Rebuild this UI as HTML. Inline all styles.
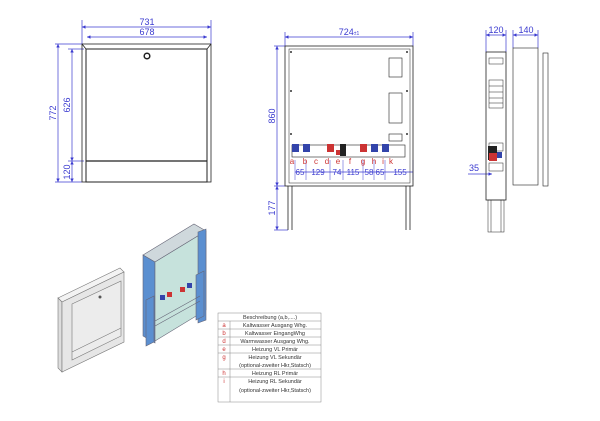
<!DOCTYPE html>
<html><head><meta charset="utf-8"><style>
html,body{margin:0;padding:0;background:#fff;}
svg{display:block;font-family:"Liberation Sans",sans-serif;}
</style></head><body>
<svg width="600" height="421" viewBox="0 0 600 421" xmlns="http://www.w3.org/2000/svg">
<defs>
<marker id="ar" viewBox="0 0 6 6" refX="6" refY="3" markerWidth="5" markerHeight="5" orient="auto-start-reverse"><path d="M0,0L6,3L0,6z" fill="#3b3bd0"/></marker>
</defs>
<g stroke="#3b3bd0" stroke-width="0.7" fill="none">
<!-- front view dims -->
<line x1="82" y1="20" x2="82" y2="44"/><line x1="211" y1="20" x2="211" y2="44"/>
<line x1="82" y1="27" x2="211" y2="27" marker-start="url(#ar)" marker-end="url(#ar)"/>
<line x1="87" y1="37" x2="207" y2="37" marker-start="url(#ar)" marker-end="url(#ar)"/>
<line x1="55" y1="44" x2="82" y2="44"/><line x1="55" y1="182" x2="82" y2="182"/>
<line x1="68" y1="49" x2="84" y2="49"/><line x1="68" y1="161" x2="84" y2="161"/>
<line x1="58" y1="44" x2="58" y2="182" marker-start="url(#ar)" marker-end="url(#ar)"/>
<line x1="72" y1="49" x2="72" y2="161" marker-start="url(#ar)" marker-end="url(#ar)"/>
<line x1="72" y1="161" x2="72" y2="182" marker-start="url(#ar)" marker-end="url(#ar)"/>
<!-- middle -->
<line x1="285" y1="32" x2="285" y2="46"/><line x1="413" y1="32" x2="413" y2="46"/>
<line x1="285" y1="37" x2="413" y2="37" marker-start="url(#ar)" marker-end="url(#ar)"/>
<line x1="274" y1="46" x2="285" y2="46"/><line x1="274" y1="186" x2="285" y2="186"/><line x1="274" y1="230" x2="288" y2="230"/>
<line x1="277" y1="46" x2="277" y2="186" marker-start="url(#ar)" marker-end="url(#ar)"/>
<line x1="277" y1="186" x2="277" y2="230" marker-start="url(#ar)" marker-end="url(#ar)"/>
<line x1="295" y1="172" x2="413" y2="172"/>
<g stroke-width="0.5"><line x1="295" y1="160" x2="295" y2="180"/><line x1="306" y1="160" x2="306" y2="180"/><line x1="330" y1="160" x2="330" y2="180"/><line x1="343" y1="160" x2="343" y2="180"/><line x1="363" y1="160" x2="363" y2="180"/><line x1="374" y1="160" x2="374" y2="180"/><line x1="385" y1="160" x2="385" y2="180"/><line x1="413" y1="160" x2="413" y2="180"/></g>
<!-- side -->
<line x1="486" y1="30" x2="486" y2="52"/><line x1="506" y1="30" x2="506" y2="52"/>
<line x1="486" y1="35" x2="506" y2="35" marker-start="url(#ar)" marker-end="url(#ar)"/>
<line x1="513" y1="30" x2="513" y2="48"/><line x1="538" y1="30" x2="538" y2="48"/>
<line x1="513" y1="35" x2="538" y2="35" marker-start="url(#ar)" marker-end="url(#ar)"/>
<line x1="468" y1="174" x2="492" y2="174" marker-end="url(#ar)"/>
</g>
<g fill="#3b3bd0" font-size="9" text-anchor="middle">
<text x="147" y="25">731</text><text x="147" y="35">678</text>
<text x="349" y="35">724<tspan font-size="5">±1</tspan></text>
<text transform="translate(56,113) rotate(-90)">772</text>
<text transform="translate(70,105) rotate(-90)">626</text>
<text transform="translate(70,172) rotate(-90)">120</text>
<text transform="translate(275,116) rotate(-90)">860</text>
<text transform="translate(275,208) rotate(-90)">177</text>
<text x="496" y="33">120</text><text x="526" y="33">140</text>
<text x="474" y="171">35</text>
<text x="300" y="175" font-size="8">65</text><text x="318" y="175" font-size="8">129</text><text x="337" y="175" font-size="8">74</text><text x="353" y="175" font-size="8">115</text><text x="369" y="175" font-size="8">58</text><text x="380" y="175" font-size="8">65</text><text x="400" y="175" font-size="8">155</text>
</g>
<g fill="#c33" font-size="8" text-anchor="middle">
<text x="292" y="164">a</text><text x="305" y="164">b</text><text x="316" y="164">c</text><text x="327" y="164">d</text><text x="338" y="164">e</text><text x="350" y="164">f</text><text x="363" y="164">g</text><text x="374" y="164">h</text><text x="383" y="164">i</text><text x="391" y="164">k</text>
</g>
<g stroke="#222" fill="none" stroke-width="0.8">
<!-- front view -->
<rect x="82" y="44" width="129" height="138"/>
<line x1="82" y1="44" x2="86" y2="49"/><line x1="211" y1="44" x2="207" y2="49"/>
<rect x="86" y="49" width="121" height="133" stroke-width="1"/>
<line x1="86" y1="161" x2="207" y2="161" stroke-width="1.3"/>
<circle cx="147" cy="56" r="2.8" stroke-width="1.5"/>
<!-- middle -->
<rect x="285" y="46" width="128" height="140"/>
<rect x="289" y="49" width="121" height="134" stroke-width="0.5"/>
<line x1="288" y1="186" x2="288" y2="230"/><line x1="292" y1="186" x2="292" y2="230"/>
<line x1="406" y1="186" x2="406" y2="230"/><line x1="410" y1="186" x2="410" y2="230"/>
<rect x="389" y="58" width="13" height="19" stroke-width="0.6"/>
<rect x="389" y="93" width="13" height="30" stroke-width="0.6"/>
<rect x="389" y="134" width="13" height="7" stroke-width="0.6"/>
<rect x="292" y="145" width="113" height="12" stroke-width="0.6"/>
<!-- side -->
<rect x="486" y="52" width="20" height="148"/>
<rect x="488" y="200" width="16" height="32" stroke-width="0.5"/>
<line x1="491" y1="200" x2="491" y2="232" stroke-width="0.5"/><line x1="501" y1="200" x2="501" y2="232" stroke-width="0.5"/>
<rect x="489" y="58" width="14" height="6" stroke-width="0.5"/>
<rect x="489" y="80" width="14" height="28" stroke-width="0.5"/>
<line x1="489" y1="86" x2="503" y2="86" stroke-width="0.5"/><line x1="489" y1="92" x2="503" y2="92" stroke-width="0.5"/><line x1="489" y1="98" x2="503" y2="98" stroke-width="0.5"/><line x1="489" y1="103" x2="503" y2="103" stroke-width="0.5"/>
<rect x="489" y="143" width="14" height="8" stroke-width="0.5"/>
<rect x="489" y="163" width="14" height="8" stroke-width="0.5"/>
<rect x="513" y="48" width="25" height="137" stroke-width="0.6"/>
<rect x="543" y="53" width="5" height="133" stroke-width="0.6"/>
</g>
<g fill="#333">
<circle cx="291" cy="52" r="1"/><circle cx="407" cy="52" r="1"/><circle cx="291" cy="91" r="1"/><circle cx="407" cy="91" r="1"/><circle cx="291" cy="134" r="1"/><circle cx="407" cy="134" r="1"/>
<rect x="488" y="146" width="9" height="14" fill="#222"/>
</g>
<g>
<g fill="#3344aa"><rect x="292" y="144" width="7" height="8"/><rect x="303" y="144" width="7" height="8"/><rect x="371" y="144" width="7" height="8"/><rect x="382" y="144" width="7" height="8"/></g>
<g fill="#cc3333"><rect x="327" y="144" width="7" height="8"/><rect x="360" y="144" width="7" height="8"/><rect x="336" y="150" width="5" height="5"/><rect x="489" y="153" width="8" height="8"/></g>
<rect x="340" y="144" width="6" height="12" fill="#222"/>
<rect x="497" y="152" width="5" height="6" fill="#3344aa"/>
</g>
<!-- 3D cabinet -->
<g stroke="#777" stroke-width="0.6">
<polygon points="58,298 120,268 124,272 62,302" fill="#f3f3f3"/>
<polygon points="58,298 62,302 62,372 58,368" fill="#ddd"/>
<polygon points="62,302 124,272 124,342 62,372" fill="#e6e6e6"/>
<polygon points="72,304 121,281 121,336 72,360" fill="#ececec"/>
<line x1="72" y1="352" x2="121" y2="328"/>
</g>
<circle cx="100" cy="297" r="1.5" fill="#555"/>
<!-- 3D frame -->
<g stroke="#667" stroke-width="0.6">
<polygon points="143,255 194,224 206,231 155,262" fill="#cfd8dc"/>
<polygon points="143,255 155,262 155,343 143,336" fill="#5b8fd0"/>
<polygon points="155,262 206,231 206,310 155,341" fill="#c6e2dc"/>
<polygon points="198,232 206,229 206,320 198,323" fill="#5b8fd0"/>
<polygon points="146,300 154,296 154,342 146,346" fill="#5b8fd0"/>
<polygon points="196,275 204,271 204,316 196,320" fill="#5b8fd0"/>
<line x1="155" y1="321" x2="200" y2="296"/><line x1="155" y1="326" x2="200" y2="301"/>
</g>
<g><rect x="160" y="295" width="5" height="5" fill="#3344aa"/><rect x="167" y="292" width="5" height="5" fill="#cc3333"/><rect x="180" y="287" width="5" height="5" fill="#cc3333"/><rect x="187" y="283" width="5" height="5" fill="#3344aa"/></g>
<!-- table -->
<g stroke="#888" stroke-width="0.5" fill="none">
<rect x="218" y="313" width="103" height="89"/>
<line x1="230" y1="321" x2="230" y2="402"/>
<line x1="218" y1="321" x2="321" y2="321"/><line x1="218" y1="329" x2="321" y2="329"/><line x1="218" y1="337" x2="321" y2="337"/><line x1="218" y1="345" x2="321" y2="345"/><line x1="218" y1="353" x2="321" y2="353"/><line x1="218" y1="369" x2="321" y2="369"/><line x1="218" y1="377" x2="321" y2="377"/>
</g>
<g font-size="5.5" fill="#333" text-anchor="middle">
<text x="270" y="319">Beschreibung (a,b,....)</text>
<text x="275" y="327">Kaltwasser Ausgang Whg.</text>
<text x="275" y="335">Kaltwasser EingangWhg</text>
<text x="275" y="343">Warmwasser Ausgang Whg.</text>
<text x="275" y="351">Heizung VL Primär</text>
<text x="275" y="359">Heizung VL Sekundär</text>
<text x="275" y="367">(optional-zweiter Hkr,Statsch)</text>
<text x="275" y="375">Heizung RL Primär</text>
<text x="275" y="383">Heizung RL Sekundär</text>
<text x="275" y="392">(optional-zweiter Hkr,Statsch)</text>
</g>
<g font-size="6" fill="#c33" text-anchor="middle">
<text x="224" y="327">a</text><text x="224" y="335">b</text><text x="224" y="343">d</text><text x="224" y="351">e</text><text x="224" y="359">g</text><text x="224" y="375">h</text><text x="224" y="383">i</text>
</g>
</svg>
</body></html>
